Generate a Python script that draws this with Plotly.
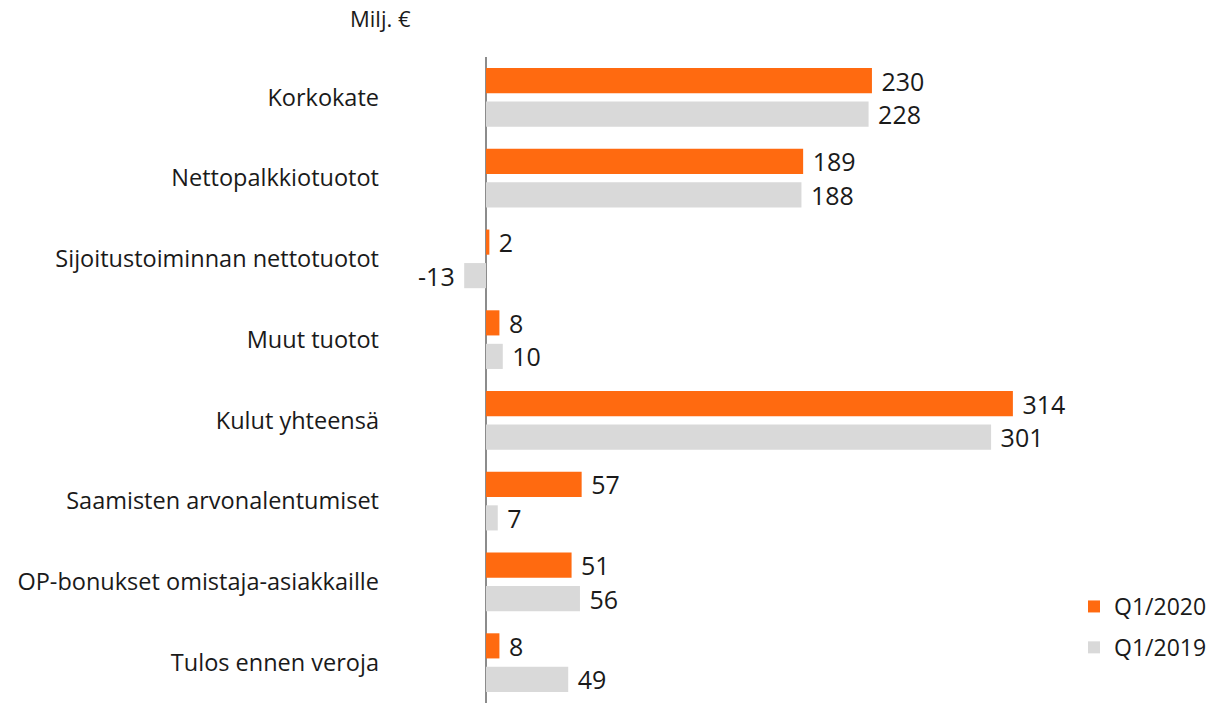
import plotly.graph_objects as go

categories = ["Korkokate", "Nettopalkkiotuotot", "Sijoitustoiminnan nettotuotot", "Muut tuotot",
              "Kulut yhteensä", "Saamisten arvonalentumiset", "OP-bonukset omistaja-asiakkaille",
              "Tulos ennen veroja"]
q1_2020 = [230, 189, 2, 8, 314, 57, 51, 8]
q1_2019 = [228, 188, -13, 10, 301, 7, 56, 49]

FONT = "Open Sans"
TXT = "#1a1a1a"
NB = "\u00a0"


def labels(vals):
    return [(NB + str(v)) if v >= 0 else (str(v) + NB) for v in vals]


fig = go.Figure()
fig.add_trace(go.Bar(name="Q1/2020", y=categories, x=q1_2020, orientation="h",
                     marker=dict(color="#FF6A10", line=dict(width=0)),
                     text=labels(q1_2020), textposition="outside",
                     textfont=dict(size=25, color=TXT, family=FONT), cliponaxis=False,
                     constraintext="none", legendgroup="a"))
fig.add_trace(go.Bar(name="Q1/2019", y=categories, x=q1_2019, orientation="h",
                     marker=dict(color="#D9D9D9", line=dict(width=0)),
                     text=labels(q1_2019), textposition="outside",
                     textfont=dict(size=25, color=TXT, family=FONT), cliponaxis=False,
                     constraintext="none", legendgroup="b"))

W, H = 1221, 703
L, R, T, B = 385, 1221 - 1080, 57, 0
PW, PH = W - L - R, H - T - B
zero_x = 486
scale = 1.678
fig.update_layout(
    width=W, height=H,
    margin=dict(l=L, r=R, t=T, b=B, autoexpand=False),
    paper_bgcolor="white", plot_bgcolor="white",
    barmode="group", bargap=0.17, bargroupgap=0.25,
    font=dict(family=FONT, size=23, color=TXT),
    showlegend=True,
    legend=dict(x=(1074 - L) / PW, xanchor="left",
                y=1 - (585 - T) / PH, yanchor="top",
                font=dict(size=23, color=TXT, family=FONT),
                traceorder="grouped", tracegroupgap=8,
                bgcolor="rgba(0,0,0,0)"),
    xaxis=dict(range=[-(zero_x - L) / scale, (W - R - zero_x) / scale], showgrid=False,
               showticklabels=False, zeroline=True, zerolinecolor="#8c8c8c",
               zerolinewidth=2, showline=False, ticks=""),
    yaxis=dict(autorange="reversed", showgrid=False, showline=False, ticks="",
               ticklabelstandoff=5,
               tickfont=dict(size=23.5, color=TXT, family=FONT), automargin=False),
    annotations=[dict(text="Milj. €", xref="paper", yref="paper",
                      x=(380 - L) / PW, xanchor="center",
                      y=1 + (T - 18) / PH, yanchor="middle",
                      showarrow=False, font=dict(size=22, color=TXT, family=FONT))],
)

fig.write_html("out.html", config={"displayModeBar": False},
               post_script="document.body.style.margin='0px';document.body.style.overflow='hidden';")
